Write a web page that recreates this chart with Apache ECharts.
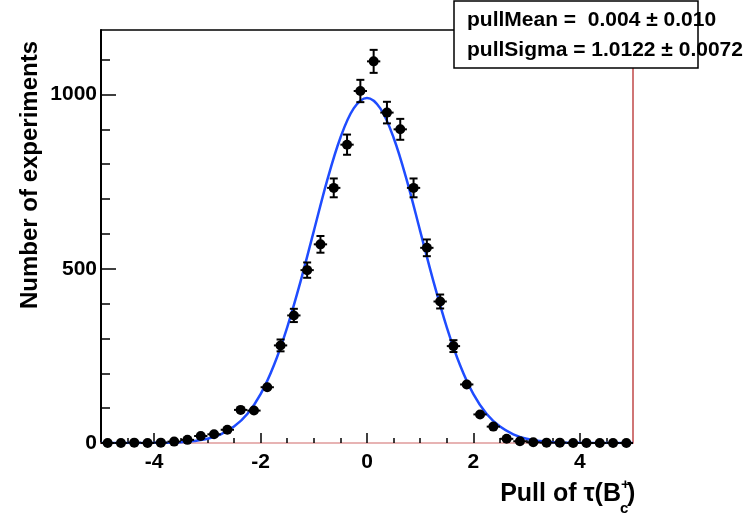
<!DOCTYPE html>
<html>
<head>
<meta charset="utf-8">
<script src="https://cdn.jsdelivr.net/npm/echarts@6/dist/echarts.min.js"></script>
<style>
html,body{margin:0;padding:0;background:#fff;}
#chart{width:752px;height:514px;}
</style>
</head>
<body>
<div id="chart"></div>
<script>
// ---- data ----
const binCenters = [-4.875,-4.625,-4.375,-4.125,-3.875,-3.625,-3.375,-3.125,-2.875,-2.625,
  -2.375,-2.125,-1.875,-1.625,-1.375,-1.125,-0.875,-0.625,-0.375,-0.125,
  0.125,0.375,0.625,0.875,1.125,1.375,1.625,1.875,2.125,2.375,
  2.625,2.875,3.125,3.375,3.625,3.875,4.125,4.375,4.625,4.875];
const counts = [0,0,1,0,1,4,9,20,25,38,
  95,93,160,280,366,496,570,732,856,1010,
  1095,948,900,732,560,406,278,168,82,47,
  12,5,2,1,1,0,0,0,0,0];
const countErrors = [0,0,1,0,1,2,3,4.5,5,6,
  10,10,13,17,19,22,24,27,29,32,
  33,31,30,27,24,20,17,13,9,7,
  3.5,2.2,1.4,1,1,0,0,0,0,0];
const binHalfWidth = 0.125;
// fit curve
const fitX = [-5,-4.75,-4.5,-4.25,-4,-3.75,-3.5,-3.25,-3,-2.75,-2.5,-2.25,-2,-1.75,-1.5,-1.25,-1,-0.75,-0.5,-0.25,
  0,0.25,0.5,0.75,1,1.25,1.5,1.75,2,2.25,2.5,2.75,3,3.25,3.5,3.75,4,4.25,4.5,4.75,5];
const fitY = [0,0,0,0.1,0.4,1,2.5,5.7,12,25,47,83,140,223,332,463,608,753,876,960,
  990,960,876,753,608,463,332,223,140,83,47,25,12,5.7,2.5,1,0.4,0.1,0,0,0];
const xMajorTicks = [-4,-2,0,2,4];
const xMinorTicks = [-4.5,-3.5,-3,-2.5,-1.5,-1,-0.5,0.5,1,1.5,2.5,3,3.5,4.5];
const yMajorTicks = [0,500,1000];
const yMinorTicks = [100,200,300,400,600,700,800,900,1100];
const statLines = ['pullMean =  0.004 \u00b1 0.010', 'pullSigma = 1.0122 \u00b1 0.0072'];
const yTitle = 'Number of experiments';
const xTitleMain = 'Pull of \u03c4(B';

const FONT = '"Liberation Sans", Arial, Helvetica, sans-serif';
const chart = echarts.init(document.getElementById('chart'), null, {renderer:'canvas'});

const pts = binCenters.map((c,i)=>[c, counts[i], countErrors[i]]);
const curve = fitX.map((x,i)=>[x, fitY[i]]);

const baseX = {type:'value', min:-5, max:5, gridIndex:0};
const baseY = {type:'value', min:0, max:1185, gridIndex:0};
const plain = v => String(v);

const option = {
  animation:false,
  backgroundColor:'#fff',
  grid:{left:101, right:119, top:30, bottom:71, containLabel:false},
  xAxis:[
    Object.assign({}, baseX, {
      position:'bottom',
      axisLine:{show:true, onZero:false, lineStyle:{color:'#e09a9a', width:1.5}},
      axisTick:{show:true, inside:true, length:10, customValues:xMajorTicks, lineStyle:{color:'#000', width:1.5}},
      axisLabel:{show:true, customValues:xMajorTicks, formatter:plain, margin:9, color:'#000', fontFamily:FONT, fontWeight:'bold', fontSize:21},
      splitLine:{show:false}
    }),
    Object.assign({}, baseX, {
      position:'bottom',
      axisLine:{show:false, onZero:false},
      axisTick:{show:true, inside:true, length:5, customValues:xMinorTicks, lineStyle:{color:'#000', width:1.5}},
      axisLabel:{show:false},
      splitLine:{show:false}
    }),
    Object.assign({}, baseX, {
      position:'top',
      axisLine:{show:true, onZero:false, lineStyle:{color:'#000', width:1.5}},
      axisTick:{show:false}, axisLabel:{show:false}, splitLine:{show:false}
    })
  ],
  yAxis:[
    Object.assign({}, baseY, {
      position:'left',
      axisLine:{show:true, onZero:false, lineStyle:{color:'#000', width:2}},
      axisTick:{show:true, inside:true, length:15, customValues:yMajorTicks, lineStyle:{color:'#000', width:1.5}},
      axisLabel:{show:true, customValues:yMajorTicks, formatter:plain, margin:4, color:'#000', fontFamily:FONT, fontWeight:'bold', fontSize:21},
      splitLine:{show:false}
    }),
    Object.assign({}, baseY, {
      position:'left',
      axisLine:{show:false, onZero:false},
      axisTick:{show:true, inside:true, length:9, customValues:yMinorTicks, lineStyle:{color:'#000', width:1.5}},
      axisLabel:{show:false}, splitLine:{show:false}
    }),
    Object.assign({}, baseY, {
      position:'right',
      axisLine:{show:true, onZero:false, lineStyle:{color:'#c04848', width:1.5}},
      axisTick:{show:false}, axisLabel:{show:false}, splitLine:{show:false}
    })
  ],
  series:[
    {
      type:'line', xAxisIndex:0, yAxisIndex:0, data:curve, smooth:0.35,
      showSymbol:false, symbol:'none', clip:true,
      lineStyle:{color:'#1f4cff', width:2.5}, z:3
    },
    {
      type:'custom', xAxisIndex:0, yAxisIndex:0, data:pts, clip:false, z:4,
      renderItem:function(params, api){
        const x = api.value(0), y = api.value(1), e = api.value(2);
        const p = api.coord([x, y]);
        const pl = api.coord([x - binHalfWidth, y]);
        const pr = api.coord([x + binHalfWidth, y]);
        const style = {stroke:'#000', lineWidth:2};
        const children = [
          {type:'line', shape:{x1:pl[0], y1:p[1], x2:pr[0], y2:p[1]}, style:style}
        ];
        if (e > 0) {
          const pt = api.coord([x, y + e]);
          const pb = api.coord([x, y - e]);
          children.push({type:'line', shape:{x1:p[0], y1:pt[1], x2:p[0], y2:pb[1]}, style:style});
          if (p[1] - pt[1] > 5) {
            children.push({type:'line', shape:{x1:p[0]-4, y1:pt[1], x2:p[0]+4, y2:pt[1]}, style:style});
            children.push({type:'line', shape:{x1:p[0]-4, y1:pb[1], x2:p[0]+4, y2:pb[1]}, style:style});
          }
        }
        children.push({type:'circle', shape:{cx:p[0], cy:p[1], r:5}, style:{fill:'#000'}});
        return {type:'group', children:children};
      }
    }
  ],
  graphic:[
    {type:'rect', z:100, shape:{x:454, y:1, width:244, height:67},
      style:{fill:'#fff', stroke:'#000', lineWidth:1.5}},
    {type:'text', z:101, x:467, y:20, style:{text:statLines[0], fill:'#000', font:'bold 21px '+FONT, textVerticalAlign:'middle', textAlign:'left'}},
    {type:'text', z:101, x:467, y:50, style:{text:statLines[1], fill:'#000', font:'bold 21px '+FONT, textVerticalAlign:'middle', textAlign:'left'}},
    {type:'text', z:101, x:30, y:175, rotation:Math.PI/2,
      style:{text:yTitle, fill:'#000', font:'bold 24px '+FONT, textAlign:'center', textVerticalAlign:'middle'}},
    {type:'text', z:101, x:621, y:494, style:{text:xTitleMain, fill:'#000', font:'bold 25px '+FONT, textAlign:'right', textVerticalAlign:'middle'}},
    {type:'text', z:101, x:621, y:485, style:{text:'+', fill:'#000', font:'bold 15px '+FONT, textAlign:'left', textVerticalAlign:'middle'}},
    {type:'text', z:101, x:620, y:509, style:{text:'c', fill:'#000', font:'bold 15px '+FONT, textAlign:'left', textVerticalAlign:'middle'}},
    {type:'text', z:101, x:627, y:494, style:{text:')', fill:'#000', font:'bold 25px '+FONT, textAlign:'left', textVerticalAlign:'middle'}}
  ]
};
chart.setOption(option);
</script>
</body>
</html>
